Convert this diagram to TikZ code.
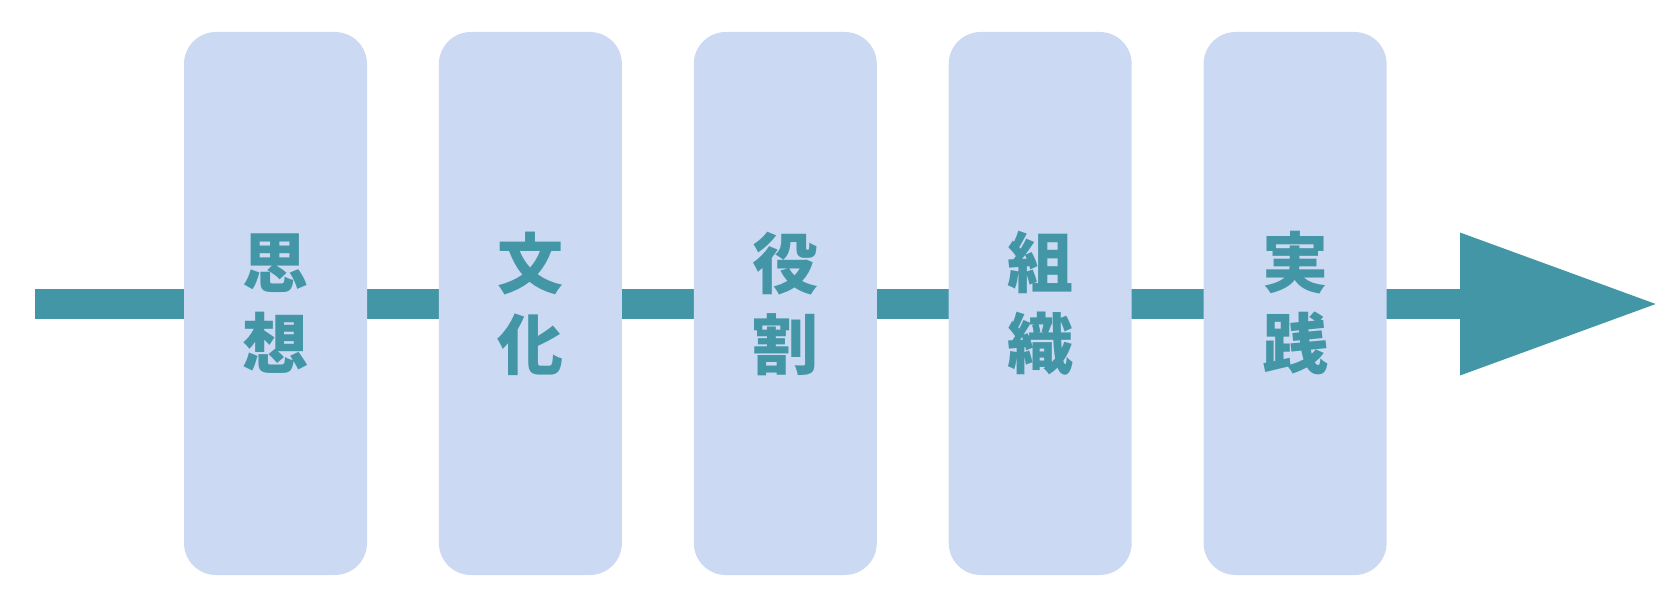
\documentclass[tikz,border=0pt]{standalone}
\usepackage{fontspec}
\newfontfamily\jpfont{Noto Sans CJK JP}
\usetikzlibrary{positioning, arrows.meta}
\definecolor{stagefill}{HTML}{CCD9F3}
\definecolor{flowteal}{HTML}{4396A6}

\begin{document}
\begin{tikzpicture}[x = 1pt, y = -1pt, node distance = 71.5pt,
    every node/.style = {shape = rectangle, fill = stagefill, rounded corners = 32pt,
        minimum width = 183pt, minimum height = 543pt, inner sep = 0pt, align = center,
        text = flowteal, font = \jpfont\bfseries\fontsize{66}{81}\selectfont}]
        \useasboundingbox (0, 0) rectangle (1680, 602);
        \coordinate (start) at (35, 304);
        \coordinate (tip) at (1659, 304);
        \draw[flowteal, line width = 30pt, -{Triangle[length = 199pt, width = 134pt]}] (start) -- (tip);
        \node (thought) at (275.5, 303.5) {思\\想};
        \node[right = of thought] (culture) {文\\化};
        \node[right = of culture] (role) {役\\割};
        \node[right = of role] (organization) {組\\織};
        \node[right = of organization] (practice) {実\\践};
\end{tikzpicture}
\end{document}
